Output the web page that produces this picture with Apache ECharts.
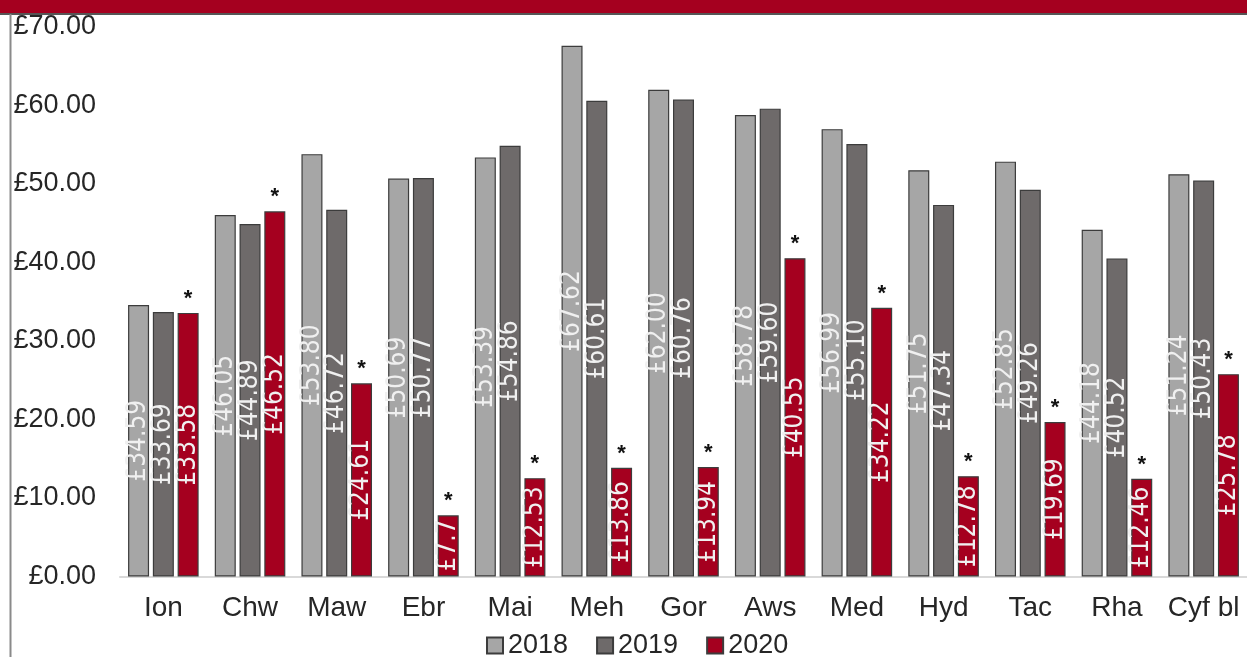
<!DOCTYPE html>
<html>
<head>
<meta charset="utf-8">
<script src="https://cdn.jsdelivr.net/npm/echarts@6/dist/echarts.min.js"></script>
<style>
html,body{margin:0;padding:0;background:#fff;}
#chart{width:1247px;height:657px;}
</style>
</head>
<body>
<div id="chart"></div>
<script>
const categories = ['Ion','Chw','Maw','Ebr','Mai','Meh','Gor','Aws','Med','Hyd','Tac','Rha','Cyf bl'];
const values2018 = [34.59,46.05,53.80,50.69,53.39,67.62,62.00,58.78,56.99,51.75,52.85,44.18,51.24];
const values2019 = [33.69,44.89,46.72,50.77,54.86,60.61,60.76,59.60,55.10,47.34,49.26,40.52,50.43];
const values2020 = [33.58,46.52,24.61,7.79,12.53,13.86,13.94,40.55,34.22,12.78,19.69,12.46,25.78];
const seriesNames = ['2018','2019','2020'];
const yTicks = [0,10,20,30,40,50,60,70];

const colors = ['#a6a6a6','#6e6a6a','#a5001f'];
const BAR_W = 21;
const GAP = '18%';
const labelFont = 'DejaVu Sans Condensed';

function fmt(v){ return '£' + v.toFixed(2); }

function barLabel(){
  return {
    show: true, position: 'inside', rotate: 90,
    color: '#f0f0f0', fontFamily: labelFont, fontSize: 26,
    formatter: p => fmt(p.value)
  };
}

function dataFor(vals){
  return vals.map(v => {
    if (v < 10) {
      return { value: v, label: { position: 'insideBottom', align: 'left', verticalAlign: 'middle',
        width: v * 7.6, overflow: 'truncate', ellipsis: '' } };
    }
    return v;
  });
}

const mainSeries = [values2018, values2019, values2020].map((vals, i) => ({
  name: seriesNames[i], type: 'bar', xAxisIndex: 0, yAxisIndex: 0,
  barWidth: BAR_W, barGap: GAP,
  data: dataFor(vals),
  itemStyle: { color: colors[i], borderColor: '#3c3c3c', borderWidth: 1.2 },
  label: barLabel()
}));

// star markers aligned with the 2020 bars (placed on a hidden twin axis)
const starSeries = [values2018, values2019, values2020].map((vals, i) => ({
  name: 'star' + i, type: 'bar', xAxisIndex: 1, yAxisIndex: 0,
  barWidth: BAR_W, barGap: GAP, silent: true,
  data: i === 2 ? vals : vals.map(() => 0),
  itemStyle: { color: 'rgba(0,0,0,0)', borderWidth: 0 },
  label: i === 2 ? { show: true, position: 'top', distance: 3, formatter: '*',
    color: '#111', fontSize: 22, fontFamily: 'Liberation Sans', fontWeight: 'bold' } : { show: false }
}));

const chart = echarts.init(document.getElementById('chart'));
chart.setOption({
  animation: false,
  backgroundColor: '#ffffff',
  grid: { left: 120, right: -5, top: 27, bottom: 80.5, containLabel: false },
  legend: {
    data: seriesNames, left: 481, top: 627, itemWidth: 16, itemHeight: 16, itemGap: 28,
    icon: 'rect',
    textStyle: { fontSize: 27, color: '#262626', fontFamily: 'Liberation Sans' }
  },
  xAxis: [
    { type: 'category', data: categories,
      axisLine: { lineStyle: { color: '#d9d9d9', width: 2 } },
      axisTick: { show: false },
      axisLabel: { fontSize: 28, color: '#262626', fontFamily: 'Liberation Sans', margin: 18, interval: 0 } },
    { type: 'category', data: categories, show: false }
  ],
  yAxis: {
    type: 'value', min: yTicks[0], max: yTicks[yTicks.length-1], interval: 10,
    axisLine: { show: false }, axisTick: { show: false }, splitLine: { show: false },
    axisLabel: { fontSize: 27, color: '#262626', fontFamily: 'Liberation Sans', margin: 24, formatter: v => fmt(v) }
  },
  graphic: [
    { type: 'rect', left: 0, top: 0, shape: { width: 1247, height: 13 }, style: { fill: '#a5001f' }, z: 10 },
    { type: 'line', shape: { x1: 0, y1: 14, x2: 1247, y2: 14 }, style: { stroke: '#555555', lineWidth: 2 }, z: 10 },
    { type: 'line', shape: { x1: 10.5, y1: 14, x2: 10.5, y2: 657 }, style: { stroke: '#8a8a8a', lineWidth: 2 }, z: 10 }
  ],
  series: mainSeries.concat(starSeries)
});
</script>
</body>
</html>
